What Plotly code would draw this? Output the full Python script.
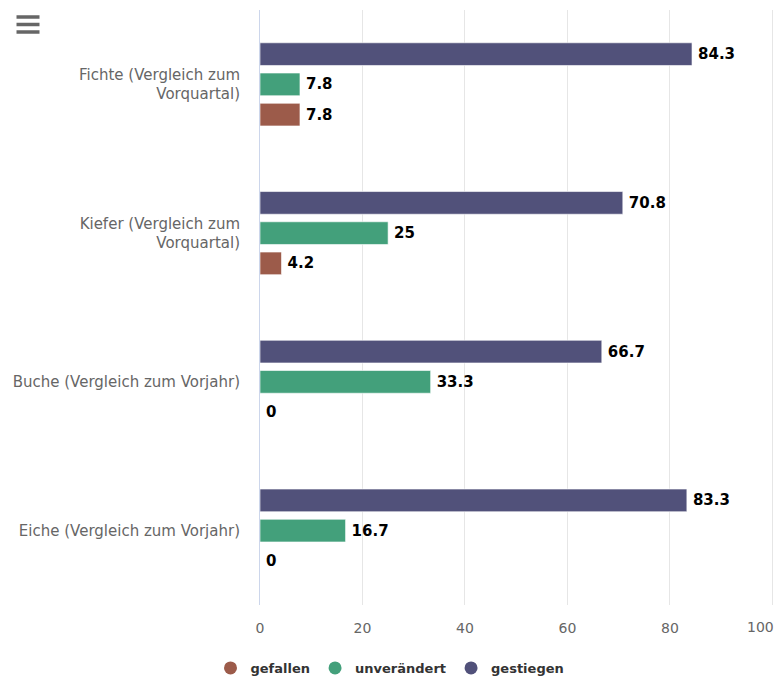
import plotly.graph_objects as go

categories = ["Fichte (Vergleich zum<br>Vorquartal)", "Kiefer (Vergleich zum<br>Vorquartal)",
              "Buche (Vergleich zum Vorjahr)", "Eiche (Vergleich zum Vorjahr)"]
series_names = ["gefallen", "unverändert", "gestiegen"]
gefallen = [7.8, 4.2, 0, 0]
unveraendert = [7.8, 25, 33.3, 16.7]
gestiegen = [84.3, 70.8, 66.7, 83.3]
x_ticks = [0, 20, 40, 60, 80, 100]

colors = ["#9c5b4a", "#43a07b", "#51517a"]
values = [gefallen, unveraendert, gestiegen]

W, H = 778, 682
ML, PR = 260, 774
MT, PB = 10, 605
MR, MB = W - PR, H - PB
PW, PH = PR - ML, PB - MT

def px_x(px):
    return (px - ML) / PW

def px_y(py):
    return (PB - py) / PH

fig = go.Figure()
for name, vals, col in zip(series_names, values, colors):
    fig.add_trace(go.Bar(
        y=categories, x=vals, orientation="h", name=name,
        marker=dict(color=col, line=dict(color="rgba(255,255,255,0.6)", width=1)),
        text=[f"\u2009{v:g}" for v in vals], textposition="outside",
        textfont=dict(family="DejaVu Sans", size=15, color="#000000", weight="bold"),
        cliponaxis=False, showlegend=False, hoverinfo="x+name",
    ))
for name, col in zip(series_names, colors):
    fig.add_trace(go.Scatter(
        x=[None], y=[None], mode="markers", name=name,
        marker=dict(color=col, size=13, symbol="circle"),
    ))

shapes = []
for py in (17, 24.5, 32):
    shapes.append(dict(type="line", xref="paper", yref="paper",
                       x0=px_x(16.5), x1=px_x(39.5), y0=px_y(py), y1=px_y(py),
                       line=dict(color="#666666", width=3.5)))

tick_text = [str(t) for t in x_ticks[:-1]] + [""]
annotations = [dict(x=x_ticks[-1], xref="x", y=px_y(627), yref="paper", text=str(x_ticks[-1]),
                    showarrow=False, xanchor="right", yanchor="middle", xshift=4,
                    font=dict(family="DejaVu Sans", size=14, color="#666666"))]

fig.update_layout(
    width=W, height=H,
    margin=dict(l=ML, r=MR, t=MT, b=MB, autoexpand=False),
    paper_bgcolor="white", plot_bgcolor="white",
    barmode="group", bargap=0.39, bargroupgap=0.25,
    font=dict(family="DejaVu Sans", color="#666666"),
    xaxis=dict(range=[0, 100.3], tickvals=x_ticks, ticktext=tick_text, showgrid=True,
               gridcolor="#e6e6e6", gridwidth=1, zeroline=False, showline=False, ticks="",
               tickfont=dict(size=14, color="#666666"), ticklabelstandoff=13,
               automargin=False, fixedrange=True),
    yaxis=dict(categoryorder="array", categoryarray=categories[::-1],
               showline=True, linecolor="#ccd6eb", linewidth=1, ticks="",
               tickfont=dict(family="DejaVu Sans", size=15, color="#666666"),
               ticklabelstandoff=16, showgrid=False, automargin=False, fixedrange=True),
    legend=dict(orientation="h", x=px_x(390), xanchor="center", y=px_y(668), yanchor="middle",
                font=dict(size=13, color="#333333", weight="bold"), itemclick=False),
    shapes=shapes,
    annotations=annotations,
    showlegend=True,
)

fig.write_html(
    "out.html",
    config={"displayModeBar": False},
    post_script="document.body.style.margin='0px';"
                "document.body.style.overflow='hidden';"
                "document.documentElement.style.overflow='hidden';",
)
